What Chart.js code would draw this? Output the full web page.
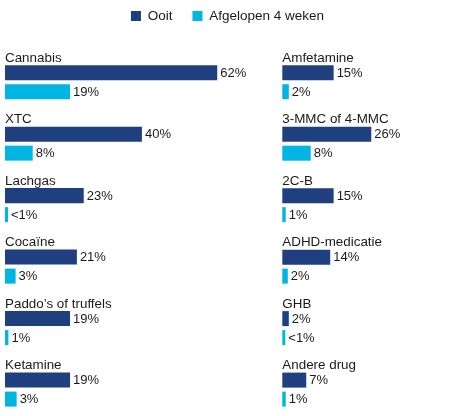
<!DOCTYPE html>
<html>
<head>
<meta charset="utf-8">
<script src="https://cdn.jsdelivr.net/npm/chart.js@4"></script>
<style>
    body { margin: 0; background: #fff; }
    .wrap { position: relative; width: 450px; height: 416px; }
    .col { position: absolute; top: 0; height: 416px; }
    #left { left: 0; width: 450px; }
    #right { left: 282px; width: 168px; }
</style>
</head>
<body>
<div class="wrap">
    <div class="col" id="left"><canvas id="chartLeft"></canvas></div>
    <div class="col" id="right"><canvas id="chartRight"></canvas></div>
</div>
<script>
const seriesNames = ['Ooit', 'Afgelopen 4 weken'];

const categoriesLeft = ['Cannabis', 'XTC', 'Lachgas', 'Cocaïne', 'Paddo’s of truffels', 'Ketamine'];
const everLeft = [62, 40, 23, 21, 19, 19];
const recentLeft = [19, 8.1, 0.8, 3.1, 1, 3.4];

const categoriesRight = ['Amfetamine', '3-MMC of 4-MMC', '2C-B', 'ADHD-medicatie', 'GHB', 'Andere drug'];
const everRight = [15, 26, 15, 14, 1.9, 7];
const recentRight = [1.9, 8.3, 1, 1.6, 0.8, 1];

(function () {
    const dark = '#1f3f7e';
    const light = '#00b5e2';
    const textColor = '#1a1a1a';
    const family = '"Liberation Sans", Arial, sans-serif';

    Chart.defaults.font.family = family;
    Chart.defaults.color = textColor;

    const fmt = v => v < 1 ? '<1%' : Math.round(v) + '%';

    // extra room between legend and first row
    const legendGap = {
        id: 'legendGap',
        beforeInit(chart) {
            if (!chart.legend) return;
            const fit = chart.legend.fit;
            chart.legend.fit = function () {
                fit.call(this);
                if (this.options.display) {
                    this.height += 49.4;
                }
            };
        }
    };

    // category name above every pair of bars + percentage next to every bar
    const barTexts = {
        id: 'barTexts',
        afterDatasetsDraw(chart) {
            const c = chart.ctx;
            const xs = chart.scales.x;
            const ys = chart.scales.y;
            c.save();
            c.fillStyle = textColor;
            c.textAlign = 'left';

            c.font = '13.4px ' + family;
            c.textBaseline = 'alphabetic';
            ys.getLabels().forEach((lab, i) => {
                c.fillText(lab, xs.left, ys.getPixelForValue(i) - 20.5);
            });

            c.font = '13px ' + family;
            c.textBaseline = 'middle';
            chart.data.datasets.forEach((ds, di) => {
                chart.getDatasetMeta(di).data.forEach((bar, i) => {
                    c.fillText(fmt(ds.data[i]), bar.x + 3, bar.y + 0.5);
                });
            });
            c.restore();
        }
    };

    function drawColumn(canvas, categories, ever, recent, xMax, padding, showLegend) {
        const barStyle = {
            categoryPercentage: 0.618,
            barPercentage: 0.79,
            minBarLength: 3,
            clip: false
        };

        const data = {
            labels: categories,
            datasets: [
                { label: seriesNames[0], data: ever, backgroundColor: dark, ...barStyle },
                { label: seriesNames[1], data: recent, backgroundColor: light, ...barStyle }
            ]
        };

        const config = {
            type: 'bar',
            data: data,
            options: {
                indexAxis: 'y',
                responsive: true,
                maintainAspectRatio: false,
                animation: false,
                events: [],
                layout: { padding: padding },
                scales: {
                    x: { min: 0, max: xMax, display: false },
                    y: { offset: false, display: false }
                },
                plugins: {
                    legend: {
                        display: showLegend,
                        position: 'top',
                        labels: {
                            boxWidth: 10,
                            boxHeight: 10,
                            padding: 20,
                            color: textColor,
                            font: { size: 13.5 }
                        }
                    },
                    tooltip: { enabled: false }
                }
            },
            plugins: [legendGap, barTexts]
        };

        if (canvas) {
            new Chart(canvas, config);
        }
    }

    drawColumn(document.getElementById('chartLeft'), categoriesLeft, everLeft, recentLeft,
        130, { top: -10.75, left: 5, right: 0, bottom: 26.4 }, true);
    drawColumn(document.getElementById('chartRight'), categoriesRight, everRight, recentRight,
        49, { top: 82.2, left: 0.3, right: 0, bottom: 26.4 }, false);
})();
</script>
</body>
</html>
